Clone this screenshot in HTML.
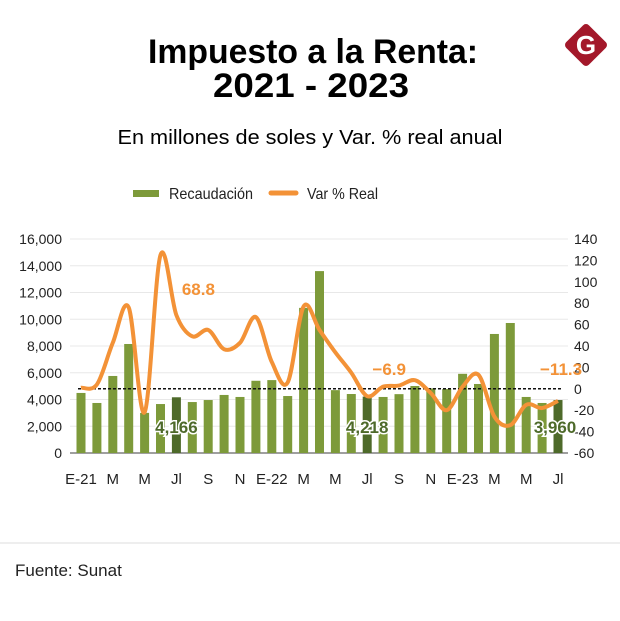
<!DOCTYPE html>
<html><head><meta charset="utf-8"><style>
body{margin:0;background:#fff}
svg text{font-family:"Liberation Sans",sans-serif}
</style></head><body>
<svg id="c" width="620" height="616" viewBox="0 0 620 616">
<rect width="620" height="616" fill="#fff"/>
<text x="313" y="63" text-anchor="middle" font-size="34" font-weight="bold" textLength="330" lengthAdjust="spacingAndGlyphs">Impuesto a la Renta:</text>
<text x="311" y="97" text-anchor="middle" font-size="34" font-weight="bold" textLength="196" lengthAdjust="spacingAndGlyphs">2021 - 2023</text>
<text x="310" y="144" text-anchor="middle" font-size="20" textLength="385" lengthAdjust="spacingAndGlyphs">En millones de soles y Var. % real anual</text>
<g>
<rect x="570" y="29" width="32" height="32" rx="4" fill="#a3182a" transform="rotate(45 586 45)"/>
<text x="586" y="54" text-anchor="middle" font-size="26" font-weight="bold" fill="#fff" font-family="Liberation Serif">G</text>
</g>
<g>
<rect x="133" y="190" width="26" height="7" fill="#7d9a3a"/>
<text x="169" y="199" font-size="16" fill="#222" textLength="84" lengthAdjust="spacingAndGlyphs">Recaudación</text>
<line x1="271" y1="193" x2="296" y2="193" stroke="#f39237" stroke-width="5" stroke-linecap="round"/>
<text x="307" y="199" font-size="16" fill="#222" textLength="71" lengthAdjust="spacingAndGlyphs">Var % Real</text>
</g>
<g id="grid"></g><g id="bars"></g><g id="line"></g><g id="labels"></g>
<line x1="0" y1="543" x2="620" y2="543" stroke="#ddd"/>
<text x="15" y="576" font-size="17" fill="#222">Fuente: Sunat</text>
</svg>
<script>
const months=["E-21","F","M","A","M","J","Jl","A","S","O","N","D","E-22","F","M","A","M","J","Jl","A","S","O","N","D","E-23","F","M","A","M","J","Jl"];
const recaudacion=[4490,3740,5760,8150,3000,3660,4166,3810,3960,4340,4190,5400,5450,4260,10850,13600,4700,4410,4218,4190,4400,5010,4830,4780,5920,5160,8900,9720,4190,3740,3960];
const varReal=[1,4,43,76,-22,125,68.8,49,55,37,43,67,25,6,77,55,34,15,-6.9,2,3,8,-4,-20,2,13,-26,-34,-15,-18,-11.3];
const leftTicks=[0,2000,4000,6000,8000,10000,12000,14000,16000];
const rightTicks=[-60,-40,-20,0,20,40,60,80,100,120,140];
const highlight=[6,18,30];
const ns="http://www.w3.org/2000/svg";
const yL=v=>453-v/16000*214;
const yR=v=>453-(v+60)/200*214;
const xB=i=>81+i*15.9;
function mk(t,a,p){const e=document.createElementNS(ns,t);for(const k in a)e.setAttribute(k,a[k]);p.appendChild(e);return e;}
const grid=document.getElementById('grid'),bars=document.getElementById('bars'),line=document.getElementById('line'),labels=document.getElementById('labels');
leftTicks.forEach(v=>{
 const g=mk('line',{x1:70,x2:568,y1:yL(v),y2:yL(v),stroke:v===0?'#666':'#e8e8e8','stroke-width':v===0?1.2:1},grid);
 
 
 const t=mk('text',{x:62,y:yL(v)+5,'text-anchor':'end','font-size':14,fill:'#222'},labels);
 t.textContent=v.toLocaleString('en-US');
 
 
});
rightTicks.forEach(v=>{
 const t=mk('text',{x:574,y:yR(v)+5,'font-size':14,fill:'#222'},labels);
 t.textContent=v;
 
 
});
recaudacion.forEach((v,i)=>{
 const r=mk('rect',{x:xB(i)-4.5,y:yL(v),width:9,height:453-yL(v),fill:highlight.includes(i)?'#4e6a2a':'#7d9a3a'},bars);
 
 
});
const zl=mk('line',{x1:78,x2:562,y1:yR(0),y2:yR(0),stroke:'#111','stroke-width':1.5,'stroke-dasharray':'3,2'},bars);


months.forEach((m,i)=>{if(i%2)return;
 const t=mk('text',{x:xB(i),y:484,'text-anchor':'middle','font-size':15,fill:'#222'},labels);
 t.textContent=m;
 
 
});
const pts=varReal.map((v,i)=>[xB(i),yR(v)]);
let d='M'+pts[0][0]+','+pts[0][1];
for(let i=0;i<pts.length-1;i++){const p0=pts[Math.max(0,i-1)],p1=pts[i],p2=pts[i+1],p3=pts[Math.min(pts.length-1,i+2)];
 d+=` C${p1[0]+(p2[0]-p0[0])/6},${p1[1]+(p2[1]-p0[1])/6} ${p2[0]-(p3[0]-p1[0])/6},${p2[1]-(p3[1]-p1[1])/6} ${p2[0]},${p2[1]}`;}
const pl=mk('path',{d:d,fill:'none',stroke:'#f39237','stroke-width':4,'stroke-linejoin':'round'},line);


highlight.forEach(i=>{
 const t=mk('text',{x:xB(i)+(i===30?-3:0),y:433,'text-anchor':'middle','font-size':17,'font-weight':'bold',fill:'#4e6a2a',stroke:'#fff','stroke-width':3,'paint-order':'stroke'},labels);
 t.textContent=recaudacion[i].toLocaleString('en-US');
 
 
 const o=mk('text',{x:xB(i)+(i===30?-18:22),y:i===6?295:375,'text-anchor':i===30?'start':'middle','font-size':17,'font-weight':'bold',fill:'#f39237'},labels);
 o.textContent=String(varReal[i]).replace('-','−');
 
 
});
</script>
</body></html>
